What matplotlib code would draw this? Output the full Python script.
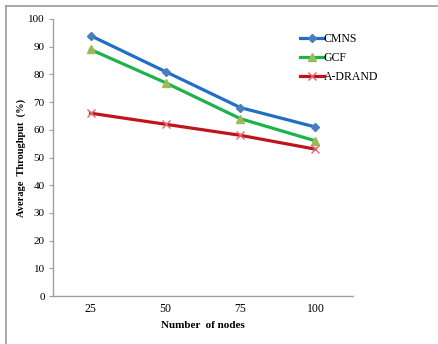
import matplotlib
matplotlib.use("Agg")
import matplotlib.pyplot as plt
from matplotlib.lines import Line2D

categories = ["25", "50", "75", "100"]
cmns = [94, 81, 68, 61]
gcf = [89, 77, 64, 56]
adrand = [66, 62, 58, 53]
yticks = [0, 10, 20, 30, 40, 50, 60, 70, 80, 90, 100]

plt.rcParams['font.family'] = ['Liberation Serif', 'DejaVu Serif']

W, H = 438, 344
fig = plt.figure(figsize=(W/100, H/100), dpi=100)
ax = fig.add_axes([53/W, 1-296/H, 300/W, 277/H])

x = list(range(len(categories)))
ax.plot(x, cmns, color='#1f6fc6', lw=2.3, marker='D', ms=4.5, mfc='#4a7ebb', mec='#4a7ebb', label='CMNS')
ax.plot(x, gcf, color='#1db34a', lw=2.3, marker='^', ms=5.5, mfc='#9bbb59', mec='#9bbb59', label='GCF')
ax.plot(x, adrand, color='#c0141c', lw=2.3, marker='x', ms=6, mew=1.0, mec='#e06666', label='A-DRAND')

ax.set_xlim(-0.5, 3.5)
ax.set_ylim(0, 100)
ax.set_xticks(x)
ax.set_xticklabels(categories)
ax.set_yticks(yticks)
for s in ['top', 'right']:
    ax.spines[s].set_visible(False)
for s in ['left', 'bottom']:
    ax.spines[s].set_color('#a0a0a0')
    ax.spines[s].set_linewidth(1.0)
ax.tick_params(axis='x', length=0, pad=5, labelsize=8.5)
ax.tick_params(axis='y', length=3, color='#a0a0a0', pad=3, labelsize=8)

ax.set_xlabel('Number  of nodes', fontsize=8, fontweight='bold', labelpad=4)
ax.set_ylabel('Average  Throughput  (%)', fontsize=7.5, fontweight='bold')
ax.yaxis.set_label_coords(-0.09, 0.5)

ax.legend(loc='upper left', bbox_to_anchor=(294/W, 1-27/H), bbox_transform=fig.transFigure,
          frameon=False, fontsize=8.5, handlelength=2.0, handletextpad=0.0,
          labelspacing=0.6, borderpad=0)

fig.add_artist(Line2D([6/W, 437/W], [1-6/H, 1-6/H], color='#999999', lw=1.2, transform=fig.transFigure))
fig.add_artist(Line2D([6/W, 6/W], [1-6/H, 0], color='#999999', lw=1.2, transform=fig.transFigure))

fig.savefig('out.png', dpi=100)
